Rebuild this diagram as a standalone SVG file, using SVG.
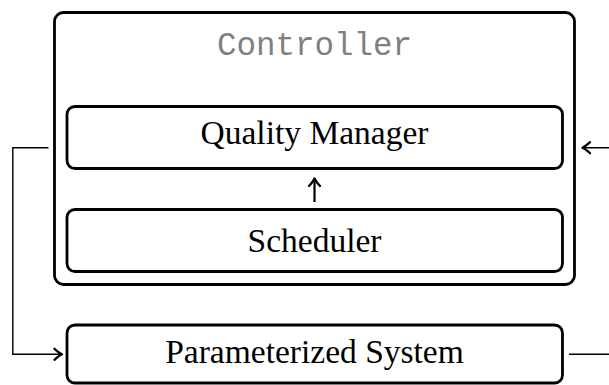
<svg xmlns="http://www.w3.org/2000/svg" width="609" height="385" viewBox="0 0 609 385">
  <style>
    .box { fill: #ffffff; stroke: #000000; stroke-width: 2.8; }
    .label { font-family: "Liberation Serif", "DejaVu Serif", serif; font-size: 33.5px; fill: #000000; text-anchor: middle; }
    .title { font-family: "Liberation Mono", "DejaVu Sans Mono", monospace; font-size: 32.5px; fill: #808080; text-anchor: middle; }
    .wire { fill: none; stroke: #000000; stroke-width: 1.4; }
    .wire-bold { fill: none; stroke: #000000; stroke-width: 2.2; }
  </style>
  <defs>
    <marker id="to" viewBox="-10 -8 12 16" markerWidth="12" markerHeight="16" refX="0" refY="0" orient="auto" markerUnits="userSpaceOnUse">
      <path d="M -7.5,-5.5 Q -2.5,-1 0,0 Q -2.5,1 -7.5,5.5" fill="none" stroke="#000000" stroke-width="2.3" stroke-linecap="round" stroke-linejoin="round"/>
    </marker>
  </defs>

  <rect width="609" height="385" fill="#ffffff"/>

  <!-- Controller container -->
  <g id="controller">
    <rect class="box" x="54.5" y="12.5" width="520" height="272" rx="9"/>
    <text class="title" x="314.5" y="55">Controller</text>
  </g>

  <g id="quality-manager">
    <rect class="box" x="67" y="106.5" width="495.5" height="62" rx="8"/>
    <text class="label" x="314.5" y="144">Quality Manager</text>
  </g>

  <g id="scheduler">
    <rect class="box" x="67" y="209.5" width="495.5" height="62" rx="8"/>
    <text class="label" x="314.5" y="252">Scheduler</text>
  </g>

  <g id="parameterized-system">
    <rect class="box" x="67" y="325" width="495.5" height="58" rx="8"/>
    <text class="label" x="314.5" y="363">Parameterized System</text>
  </g>

  <!-- Connectors -->
  <g id="connectors">
    <path class="wire-bold" d="M 314.5,202 L 314.5,178.5" marker-end="url(#to)"/>
    <path class="wire" d="M 48.5,147.7 L 12.8,147.7 L 12.8,354.3 L 62,354.3" marker-end="url(#to)"/>
    <path class="wire" d="M 569,354.3 L 620,354.3 L 620,147.7 L 582.5,147.7" marker-end="url(#to)"/>
  </g>
</svg>
